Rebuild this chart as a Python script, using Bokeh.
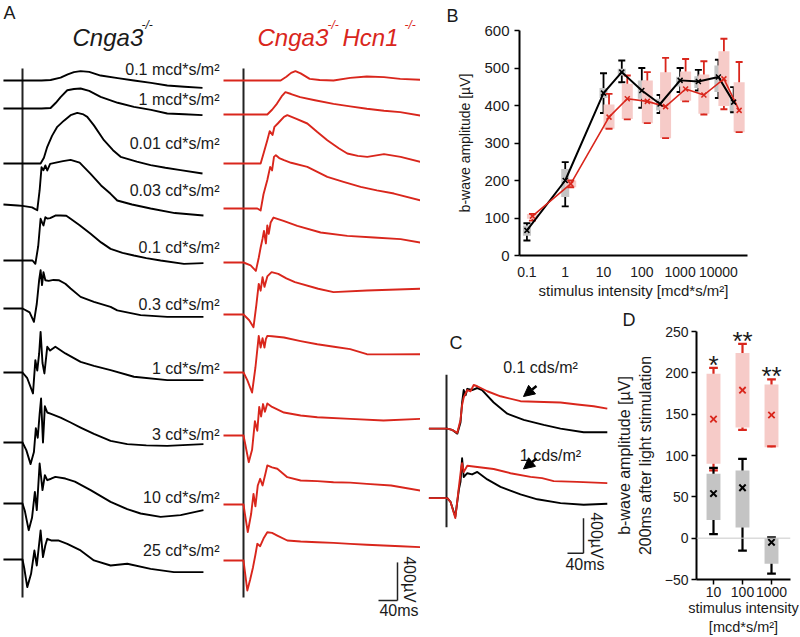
import math
from bokeh.plotting import figure
from bokeh.layouts import row, column
from bokeh.models import (Range1d, FixedTicker, CustomJSTickFormatter, Label, Span,
                          Arrow, NormalHead, Title)
from bokeh.core.properties import value
from bokeh.embed import file_html
from bokeh.resources import INLINE

FONT = "Liberation Sans"
RED = "#d9261c"
PINK = "#f6cbc8"
GREY = "#c4c4c4"
INK = "#1a1a1a"

# ---------------- Panel A data (time in ms after flash, amplitude in uV) ----------------
intensity_labels = ["0.1 mcd*s/m²", "1 mcd*s/m²", "0.01 cd*s/m²", "0.03 cd*s/m²", "0.1 cd*s/m²",
                    "0.3 cd*s/m²", "1 cd*s/m²", "3 cd*s/m²", "10 cd*s/m²", "25 cd*s/m²"]

black_t = [
    [-40, 0, 40, 59, 80, 95, 108, 122, 140, 164, 200, 234, 270, 304, 340, 378],
    [-40, 0, 40, 59, 70, 80, 94, 108, 122, 140, 164, 200, 234, 270, 304, 340, 378],
    [-40, 0, 38, 45, 52, 62, 73, 87, 101, 115, 128, 136, 150, 171, 190, 206, 240, 269, 300, 332, 378],
    [-40, -10, 0, 20, 31, 36, 40, 44, 48, 52, 58, 70, 85, 101, 120, 143, 165, 185, 199, 230, 269, 320, 380],
    [-40, 0, 21, 27, 33, 38, 41, 44, 48, 52, 58, 69, 80, 92, 101, 120, 143, 165, 185, 210, 234, 260, 290, 339, 380],
    [-40, 0, 15, 24, 30, 35, 38, 41, 44, 48, 55, 65, 76, 90, 101, 122, 150, 185, 199, 248, 304, 380],
    [-40, 0, 10, 22, 27, 31, 35, 38, 42, 46, 52, 58, 69, 90, 122, 150, 185, 234, 304, 380],
    [-40, 0, 8, 17, 24, 28, 32, 36, 39, 43, 47, 52, 60, 80, 101, 122, 150, 185, 220, 260, 304, 380],
    [-40, 0, 5, 13, 20, 26, 30, 36, 42, 47, 52, 60, 69, 90, 110, 143, 185, 220, 248, 290, 332, 380],
    [-40, 0, 4, 10, 18, 25, 30, 38, 43, 48, 52, 60, 75, 94, 122, 150, 185, 220, 269, 318, 380],
]
black_v = [
    [0, 0, 0, 5, 30, 65, 88, 98, 90, 52, 25, 0, -25, -52, -65, -77],
    [0, 0, 0, 5, 60, 120, 192, 205, 210, 185, 122, 60, 17, -15, -52, -60, -70],
    [0, 0, 0, 60, 175, 290, 385, 450, 507, 532, 515, 490, 400, 245, 140, 70, 20, -17, -45, -70, -105],
    [0, -10, -15, -30, -60, 150, 392, 360, 410, 357, 427, 440, 455, 469, 440, 322, 200, 112, 42, 0, -42, -90, -115],
    [0, 0, 0, -35, 150, 438, 400, 368, 455, 440, 445, 472, 472, 470, 438, 370, 280, 190, 122, 80, 52, 25, 0, -35, -28],
    [0, 0, -40, -140, 50, 300, 402, 245, 380, 297, 290, 300, 297, 260, 210, 122, 70, 17, -20, -70, -88, -88],
    [0, 0, -60, -220, 130, 20, 200, 427, 100, -10, 270, 230, 270, 200, 112, 70, 25, -45, -80, -80],
    [0, 0, -80, -227, -100, 150, 50, 300, 462, 0, 380, 315, 300, 262, 210, 157, 90, 17, -17, -30, -35, -17],
    [0, 0, -80, -280, -150, 122, -70, 420, 140, 297, 245, 260, 280, 262, 230, 140, 17, -60, -105, -140, -122, -70],
    [0, 0, -100, -290, -150, 94, -63, 304, 25, 150, 217, 200, 200, 165, 95, -10, -63, -45, -98, -133, -133],
]
red_t = [
    [-42, 0, 50, 78, 90, 100, 109, 120, 139, 160, 189, 224, 259, 295, 329, 371],
    [-42, 0, 50, 60, 70, 80, 88, 100, 119, 150, 189, 224, 259, 295, 329, 371],
    [-42, 0, 36, 43, 50, 55, 61, 65, 72, 85, 92, 110, 134, 155, 176, 200, 218, 240, 260, 295, 330, 371],
    [-42, 0, 29, 36, 42, 50, 56, 60, 64, 68, 75, 85, 100, 134, 176, 210, 246, 280, 316, 371],
    [-42, 0, 15, 26, 32, 36, 40, 43, 47, 50, 53, 57, 63, 84, 113, 162, 218, 274, 330, 371],
    [-42, 0, 12, 21, 27, 32, 36, 40, 44, 50, 59, 73, 90, 108, 157, 189, 259, 371],
    [-42, 0, 8, 18, 25, 32, 36, 40, 44, 47, 50, 60, 85, 120, 155, 190, 224, 259, 300, 371],
    [-42, 0, 4, 11, 18, 24, 29, 33, 37, 41, 45, 50, 60, 85, 120, 155, 224, 294, 371],
    [-42, 0, 3, 9, 16, 21, 25, 30, 35, 40, 46, 50, 60, 71, 92, 120, 155, 189, 224, 259, 310, 371],
    [-42, 0, 3, 8, 14, 20, 25, 29, 35, 42, 50, 60, 71, 92, 120, 155, 189, 224, 259, 294, 330, 371],
]
red_v = [
    [0, 0, 0, 0, 40, 80, 98, 75, 17, 5, 0, 28, 42, 35, 17, 7],
    [0, 0, 0, 50, 112, 190, 234, 215, 182, 150, 112, 85, 60, 40, 25, -10],
    [0, 0, 0, 120, 245, 340, 300, 385, 420, 490, 507, 470, 420, 330, 245, 160, 105, 80, 70, 98, 70, 17],
    [0, 0, 0, -20, 150, 300, 437, 400, 542, 560, 530, 507, 480, 437, 332, 280, 227, 190, 157, 87],
    [0, 0, -30, -88, 50, 157, 250, 332, 200, 390, 300, 420, 472, 437, 385, 315, 280, 262, 245, 210],
    [0, 0, -60, -133, 100, 322, 250, 392, 290, 400, 445, 427, 380, 340, 270, 235, 252, 270],
    [0, 0, -80, -210, 50, 385, 262, 360, 262, 350, 385, 380, 367, 330, 297, 270, 245, 192, 190, 192],
    [0, 0, -100, -280, -150, 150, 50, 300, 200, 330, 250, 336, 300, 241, 210, 192, 175, 157, 175],
    [0, 0, -100, -290, -100, 112, -20, 200, 270, 200, 322, 410, 390, 375, 287, 252, 245, 234, 230, 217, 200, 147],
    [0, 0, -120, -315, -200, -70, 60, 175, 150, 230, 297, 290, 262, 210, 200, 192, 185, 175, 165, 157, 150, 140],
]

# ---------------- Panel B data (b-wave amplitude, uV) ----------------
b_intensity = [0.1, 1, 10, 30, 100, 300, 1000, 3000, 10000, 25000]
b_tick_values = [0.1, 1, 10, 100, 1000, 10000]
b_black_mean = [67, 200, 433, 489, 440, 404, 467, 464, 476, 409]
b_black_q1 = [53, 156, 420, 480, 418, 387, 451, 447, 436, 382]
b_black_q3 = [80, 231, 447, 498, 467, 418, 477, 478, 507, 422]
b_black_min = [40, 131, 380, 462, 394, 380, 436, 440, 420, 382]
b_black_max = [86, 249, 486, 520, 500, 428, 500, 495, 522, 449]
b_red_mean = [105, 191, 369, 418, 411, 397, 444, 428, 471, 387]
b_red_q1 = [98, 182, 338, 364, 353, 313, 413, 378, 399, 329]
b_red_q3 = [111, 200, 403, 458, 467, 489, 491, 483, 545, 462]
b_red_min = [93, 182, 338, 363, 353, 313, 411, 376, 390, 329]
b_red_max = [111, 200, 431, 480, 489, 527, 524, 518, 578, 516]

# ---------------- Panel C data ----------------
c_labels = ["0.1 cds/m²", "1 cds/m²"]
c_black_t = [[-44, 2, 14, 27, 35, 39, 43, 48, 52, 64, 77, 89, 118, 152, 193, 243, 285, 343, 402],
             [-44, 2, 10, 22, 31, 35, 39, 43, 52, 64, 77, 102, 135, 185, 227, 285, 343, 402]]
c_black_v = [[0, 0, -14, -57, 71, 297, 439, 382, 453, 439, 462, 439, 297, 170, 99, 42, 0, -42, -42],
             [0, 0, -42, -212, 99, 184, 453, 240, 283, 269, 297, 212, 127, 42, -14, -57, -76, -65]]
c_red_t = [[-44, 2, 14, 27, 35, 39, 43, 52, 60, 68, 77, 102, 135, 185, 243, 285, 327, 368, 402],
           [-44, 2, 10, 22, 31, 37, 39, 43, 52, 77, 118, 160, 210, 239, 268, 327, 402]]
c_red_v = [[0, 0, -14, -48, 99, 269, 354, 439, 425, 496, 482, 425, 368, 312, 303, 297, 275, 255, 227],
           [0, 0, -42, -227, 127, 354, 397, 297, 368, 354, 331, 283, 241, 227, 193, 184, 170]]

# ---------------- Panel D data ----------------
d_categories = ["10", "100", "1000"]
d_black_mean = [54, 61, -5]
d_black_q1 = [22, 13, -31]
d_black_q3 = [78, 82, 0]
d_black_min = [5, -15, -43]
d_black_max = [85, 96, 1]
d_red_mean = [144, 179, 149]
d_red_q1 = [90, 134, 110]
d_red_q3 = [199, 224, 186]
d_red_min = [82, 131, 111]
d_red_max = [206, 235, 192]
d_significance = ["*", "**", "**"]

# =====================================================================
# Panel A  (one screen pixel = 2.1 ms horizontally, 10.5 uV vertically)
# =====================================================================
A_W, A_H = 420, 637
MSPX_A = 2.1
UVPX_A = 10.5
RED_COL = 221 * MSPX_A
black_base = [80, 108, 163, 204, 260, 308, 372, 442, 503, 559]
red_base = [80, 114, 163, 208, 262, 314, 372, 435, 504, 560]
label_y = [69, 99, 143, 190, 247, 304, 368, 434, 497, 550]


def ax(rx):
    return (rx - 22) * MSPX_A


def ay(ry):
    return -ry * UVPX_A


pA = figure(width=A_W, height=A_H, x_range=Range1d(ax(0), ax(A_W)),
            y_range=Range1d(ay(A_H), ay(0)), x_axis_type=None, y_axis_type=None,
            output_backend="svg", toolbar_location=None, min_border=0, title=None,
            outline_line_color=None)
pA.grid.visible = False

pA.segment(x0=[0, RED_COL], y0=[ay(68)] * 2, x1=[0, RED_COL], y1=[ay(597)] * 2,
           line_color="#222222", line_width=2)
for i in range(10):
    pA.line([t for t in black_t[i]], [v + ay(black_base[i]) for v in black_v[i]],
            line_color="black", line_width=1.9, line_join="round")
    pA.line([t + RED_COL for t in red_t[i]], [v + ay(red_base[i]) for v in red_v[i]],
            line_color=RED, line_width=1.9, line_join="round")

pA.text(x=[ax(219)] * 10, y=[ay(v) for v in label_y], text=intensity_labels,
        text_align="right", text_baseline="middle", text_font=value(FONT),
        text_font_size="16px", text_color=INK)

pA.add_layout(Label(x=ax(3), y=ay(2.5), text="A", text_font=FONT, text_font_size="18px",
                    text_baseline="top", text_align="left", text_color=INK))


def title_part(x_ref, y_ref, txt, size, color):
    pA.add_layout(Label(x=ax(x_ref), y=ay(y_ref), text=txt, text_font=FONT,
                        text_font_size=size, text_font_style="italic",
                        text_baseline="alphabetic", text_align="left", text_color=color))


title_part(72, 37, "Cnga3", "24px", INK)
title_part(141, 24, "-/-", "12px", INK)
title_part(257, 37, "Cnga3", "24px", RED)
title_part(327, 24, "-/-", "12px", RED)
title_part(342, 37, "Hcn1", "24px", RED)
title_part(404, 24, "-/-", "12px", RED)

# scale bar A
pA.segment(x0=[ax(378), ax(397)], y0=[ay(600), ay(600)], x1=[ax(397), ax(397)],
           y1=[ay(600), ay(600) + 400], line_color="#222222", line_width=1.5)
pA.add_layout(Label(x=ax(409), y=ay(579), text="400µV", text_font=FONT, text_font_size="16px",
                    angle=-math.pi / 2, text_align="center", text_baseline="middle",
                    text_color=INK))
pA.add_layout(Label(x=ax(418), y=ay(601), text="40ms", text_font=FONT, text_font_size="16px",
                    text_align="right", text_baseline="top", text_color=INK))

# =====================================================================
# Panel B
# =====================================================================
XLO, XHI = 0.064, 57500
B_FRAME_W = 228
B_PX_DEC = B_FRAME_W / (math.log10(XHI) - math.log10(XLO))

pB = figure(width=380, height=305, x_axis_type="log", x_range=Range1d(XLO, XHI),
            y_range=Range1d(0, 600), output_backend="svg", toolbar_location=None,
            min_border_left=99, min_border_right=53, min_border_top=30, min_border_bottom=50,
            title=None, outline_line_color=None)
pB.grid.visible = False
pB.add_layout(Title(text="B", align="left", offset=446 - 519, standoff=5, vertical_align="top",
                    text_font=FONT, text_font_size="18px", text_font_style="normal",
                    text_color=INK), "above")


def fac(px):
    return 10 ** (px / B_PX_DEC)


red_dodge = fac(5.5)
bk_x = list(b_intensity)
rd_x = [x * red_dodge for x in b_intensity]


def boxes(p, xs, q1, q3, mn, mx, fill, col, half, cap, lw):
    p.quad(left=[x / half for x in xs], right=[x * half for x in xs], bottom=q1, top=q3,
           fill_color=fill, line_color=None)
    p.segment(x0=xs, y0=q3, x1=xs, y1=mx, line_color=col, line_width=lw)
    p.segment(x0=xs, y0=q1, x1=xs, y1=mn, line_color=col, line_width=lw)
    p.segment(x0=[x / cap for x in xs], y0=mx, x1=[x * cap for x in xs], y1=mx,
              line_color=col, line_width=lw)
    p.segment(x0=[x / cap for x in xs], y0=mn, x1=[x * cap for x in xs], y1=mn,
              line_color=col, line_width=lw)


boxes(pB, bk_x, b_black_q1, b_black_q3, b_black_min, b_black_max,
      GREY, "black", fac(4), fac(3.5), 1.8)
boxes(pB, rd_x, b_red_q1, b_red_q3, b_red_min, b_red_max,
      PINK, RED, fac(5.5), fac(3.5), 1.8)
pB.line(bk_x, b_black_mean, line_color="black", line_width=2)
pB.line(rd_x, b_red_mean, line_color=RED, line_width=1.6)
pB.scatter(bk_x, b_black_mean, marker="x", size=7, line_color="black", line_width=1.5)
pB.scatter(rd_x, b_red_mean, marker="x", size=7, line_color=RED, line_width=1.5)

pB.xaxis.ticker = FixedTicker(ticks=b_tick_values)
pB.xaxis.formatter = CustomJSTickFormatter(code="return tick < 1 ? tick.toFixed(1) : tick.toFixed(0);")
pB.xaxis.major_tick_line_color = None
pB.xaxis.minor_tick_line_color = None
pB.xaxis.axis_label = "stimulus intensity [mcd*s/m²]"
pB.xaxis.major_label_standoff = 5
pB.xaxis.axis_label_standoff = 2
pB.yaxis.ticker = FixedTicker(ticks=[0, 100, 200, 300, 400, 500, 600])
pB.yaxis.minor_tick_line_color = None
pB.yaxis.major_tick_out = 5
pB.yaxis.major_tick_in = 0
pB.yaxis.axis_label = "b-wave amplitude [µV]"
pB.yaxis.axis_label_standoff = 8
for a in (pB.xaxis, pB.yaxis):
    a.axis_line_width = 2
    a.axis_line_color = "black"
    a.major_tick_line_width = 1.5
    a.major_label_text_font = FONT
    a.major_label_text_font_size = "14px"
    a.major_label_text_color = INK
    a.axis_label_text_font = FONT
    a.axis_label_text_font_style = "normal"
    a.axis_label_text_color = INK
pB.yaxis.major_label_text_font_size = "15px"
pB.xaxis.axis_label_text_font_size = "15px"
pB.yaxis.axis_label_text_font_size = "14px"

# =====================================================================
# Panel C  (one screen pixel = 2.5 ms, 8.5 uV)
# =====================================================================
MSPX_C = 2.5
UVPX_C = 8.5
c_base = [435, 528]


def cx(rx):
    return (rx - 446) * MSPX_C


def cy(ry):
    return -ry * UVPX_C


pC = figure(width=190, height=332, x_range=Range1d(cx(420), cx(610)),
            y_range=Range1d(cy(637), cy(305)), x_axis_type=None, y_axis_type=None,
            output_backend="svg", toolbar_location=None, min_border=0, title=None,
            outline_line_color=None)
pC.grid.visible = False
pC.segment(x0=[0], y0=[cy(363)], x1=[0], y1=[cy(567)], line_color="#222222", line_width=2)
for i in range(2):
    pC.line(c_black_t[i], [v + cy(c_base[i]) for v in c_black_v[i]], line_color="black",
            line_width=1.9, line_join="round")
    pC.line(c_red_t[i], [v + cy(c_base[i]) for v in c_red_v[i]], line_color=RED,
            line_width=1.9, line_join="round")

pC.text(x=[cx(540), cx(550)], y=[cy(353), cy(471)], text=c_labels, text_align="center",
        text_baseline="middle", text_font=value(FONT), text_font_size="16px", text_color=INK)
for (x0, y0, x1, y1) in [(536, 378, 523, 392), (536, 475, 523, 489)]:
    pC.add_layout(Arrow(x_start=cx(x0), y_start=cy(y0), x_end=cx(x1), y_end=cy(y1),
                        line_width=2.5, line_color="black",
                        end=NormalHead(size=11, fill_color="black", line_color="black")))
pC.segment(x0=[cx(567), cx(583)], y0=[cy(602), cy(602)], x1=[cx(583), cx(583)],
           y1=[cy(602), cy(602) + 400], line_color="#222222", line_width=1.5)
pC.add_layout(Label(x=cx(596), y=cy(578), text="400µV", text_font=FONT, text_font_size="16px",
                    angle=-math.pi / 2, text_align="center", text_baseline="middle",
                    text_color=INK))
pC.add_layout(Label(x=cx(604), y=cy(605), text="40ms", text_font=FONT, text_font_size="16px",
                    text_align="right", text_baseline="top", text_color=INK))
pC.add_layout(Label(x=cx(449), y=cy(307), text="C", text_font=FONT, text_font_size="18px",
                    text_baseline="top", text_align="left", text_color=INK))

# =====================================================================
# Panel D
# =====================================================================
D_PX_UNIT = 29.0
pD = figure(width=190, height=332, x_range=Range1d(1 - 17 / D_PX_UNIT, 1 + 77 / D_PX_UNIT),
            y_range=Range1d(-50, 250), output_backend="svg", toolbar_location=None,
            min_border_left=86, min_border_right=10, min_border_top=26, min_border_bottom=56,
            title=None, outline_line_color=None)
pD.grid.visible = False
pD.add_layout(Title(text="D", align="left", offset=622 - 696, standoff=0, vertical_align="top",
                    text_font=FONT, text_font_size="18px", text_font_style="normal",
                    text_color=INK), "above")
d_x = [i + 1 for i in range(len(d_categories))]
pD.add_layout(Span(location=0, dimension="width", line_color="#c8c8c8", line_width=1))


def dboxes(p, xs, q1, q3, mn, mx, fill, col):
    p.vbar(x=xs, width=0.48, bottom=q1, top=q3, fill_color=fill, line_color=None)
    p.segment(x0=xs, y0=q3, x1=xs, y1=mx, line_color=col, line_width=2.2)
    p.segment(x0=xs, y0=q1, x1=xs, y1=mn, line_color=col, line_width=2.2)
    p.segment(x0=[x - 0.15 for x in xs], y0=mx, x1=[x + 0.15 for x in xs], y1=mx,
              line_color=col, line_width=2.2)
    p.segment(x0=[x - 0.15 for x in xs], y0=mn, x1=[x + 0.15 for x in xs], y1=mn,
              line_color=col, line_width=2.2)


dboxes(pD, d_x, d_red_q1, d_red_q3, d_red_min, d_red_max, PINK, RED)
dboxes(pD, d_x, d_black_q1, d_black_q3, d_black_min, d_black_max, GREY, "black")
pD.scatter(d_x, d_black_mean, marker="x", size=9, line_color="black", line_width=2)
pD.scatter(d_x, d_red_mean, marker="x", size=9, line_color=RED, line_width=1.8)
pD.text(x=d_x, y=[m + 4 for m in d_red_max], text=d_significance, text_align="center",
        text_baseline="alphabetic", text_font=value(FONT), text_font_size="26px",
        text_color=INK)

pD.xaxis.ticker = FixedTicker(ticks=d_x)
pD.xaxis.major_label_overrides = {x: c for x, c in zip(d_x, d_categories)}
pD.xaxis.axis_label = "stimulus intensity\n[mcd*s/m²]"
pD.xaxis.major_label_standoff = 2
pD.xaxis.axis_label_standoff = 0
pD.yaxis.ticker = FixedTicker(ticks=[-50, 0, 50, 100, 150, 200, 250])
pD.yaxis.axis_label = "b-wave amplitude [µV]\n200ms after light stimulation"
pD.yaxis.axis_label_standoff = 8
pD.yaxis.major_label_standoff = 3
for a in (pD.xaxis, pD.yaxis):
    a.axis_line_width = 2
    a.axis_line_color = "black"
    a.major_tick_out = 5
    a.major_tick_in = 0
    a.major_tick_line_width = 1.5
    a.minor_tick_line_color = None
    a.major_label_text_font = FONT
    a.major_label_text_font_size = "14px"
    a.major_label_text_color = INK
    a.axis_label_text_font = FONT
    a.axis_label_text_font_style = "normal"
    a.axis_label_text_color = INK
pD.xaxis.axis_label_text_font_size = "14.5px"
pD.yaxis.axis_label_text_font_size = "16px"

layout = row(pA, column(pB, row(pC, pD)))
open("out.html", "w").write(file_html(layout, INLINE))
